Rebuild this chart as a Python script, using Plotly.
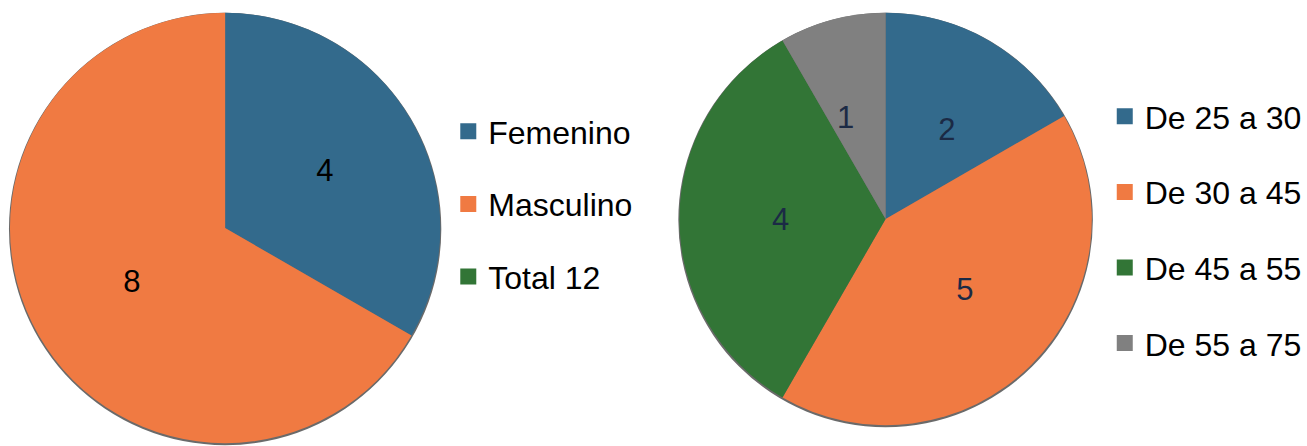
import plotly.graph_objects as go

# ---- data ----
sexo_labels = ["Femenino", "Masculino", "Total 12"]
sexo_values = [4, 8, 0]
sexo_colors = ["#336a8c", "#f07a42", "#327536"]

edad_labels = ["De 25 a 30", "De 30 a 45", "De 45 a 55", "De 55 a 75"]
edad_values = [2, 5, 4, 1]
edad_colors = ["#336a8c", "#f07a42", "#327536", "#808080"]

W, H = 1307, 446
FONT = "Liberation Sans, Arial, sans-serif"


def px_x(a, b):
    return [max(0, a / W), min(1, b / W)]


def px_y(top, bottom):
    # pixel rows (from top) -> paper fraction (from bottom)
    return [max(0, 1 - bottom / H), min(1, 1 - top / H)]


fig = go.Figure()

left_dom = dict(x=px_x(10, 442), y=px_y(12, 444))
left_shadow = dict(x=px_x(9, 443), y=px_y(12, 446))
right_dom = dict(x=px_x(682, 1096), y=px_y(12, 426))
right_shadow = dict(x=px_x(681, 1097), y=px_y(12, 428))
right_text_dom = dict(x=px_x(801, 977), y=px_y(131, 307))

for dom in (left_shadow, right_shadow):
    fig.add_trace(go.Pie(values=[1], domain=dom, sort=False, showlegend=False,
                         marker=dict(colors=["rgba(90,90,90,0.9)"], line=dict(width=0)),
                         textinfo="none", hoverinfo="skip"))

sx = [(l, v, c) for l, v, c in zip(sexo_labels, sexo_values, sexo_colors) if v > 0]
fig.add_trace(go.Pie(
    labels=[s[0] for s in sx], values=[s[1] for s in sx],
    marker=dict(colors=[s[2] for s in sx], line=dict(width=0)),
    domain=left_dom, sort=False, direction="clockwise", rotation=0,
    textinfo="value", textposition="inside", insidetextorientation="horizontal",
    textfont=dict(family=FONT, size=31, color="#000000"),
    showlegend=False, hoverinfo="label+value"))

fig.add_trace(go.Pie(
    labels=edad_labels, values=edad_values,
    marker=dict(colors=edad_colors, line=dict(width=0)),
    domain=right_dom, sort=False, direction="clockwise", rotation=0,
    textinfo="none",
    showlegend=False, hoverinfo="label+value"))

# value labels of the right pie, placed at mid-radius (as in the original)
fig.add_trace(go.Pie(
    labels=edad_labels, values=edad_values,
    marker=dict(colors=["rgba(0,0,0,0)"] * len(edad_values), line=dict(width=0)),
    domain=right_text_dom, sort=False, direction="clockwise", rotation=0,
    textinfo="value", textposition="outside", automargin=False,
    outsidetextfont=dict(family=FONT, size=31, color="#1b2a45"),
    showlegend=False, hoverinfo="skip"))

# legend entries
for i, (lab, col) in enumerate(zip(sexo_labels, sexo_colors)):
    fig.add_trace(go.Scatter(x=[None], y=[None], mode="markers", name=lab,
                             marker=dict(symbol="square", size=17, color=col),
                             legend="legend", legendgroup="s%d" % i, hoverinfo="skip"))
for i, (lab, col) in enumerate(zip(edad_labels, edad_colors)):
    fig.add_trace(go.Scatter(x=[None], y=[None], mode="markers", name=lab,
                             marker=dict(symbol="square", size=17, color=col),
                             legend="legend2", legendgroup="e%d" % i, hoverinfo="skip"))

legend_common = dict(font=dict(family=FONT, size=32, color="#000000"),
                     bgcolor="rgba(0,0,0,0)", borderwidth=0,
                     xanchor="left", yanchor="top", itemclick=False, itemdoubleclick=False)

fig.update_layout(
    width=W, height=H,
    margin=dict(l=0, r=0, t=0, b=0),
    paper_bgcolor="white", plot_bgcolor="white",
    xaxis=dict(visible=False), yaxis=dict(visible=False),
    legend=dict(x=450 / W, y=1 - 104 / H, tracegroupgap=28, **legend_common),
    legend2=dict(x=1109 / W, y=1 - 89 / H, tracegroupgap=31, **legend_common),
    font=dict(family=FONT),
)

fig.write_html("out.html", config={"displayModeBar": False},
               post_script="document.body.style.margin='0px';")
